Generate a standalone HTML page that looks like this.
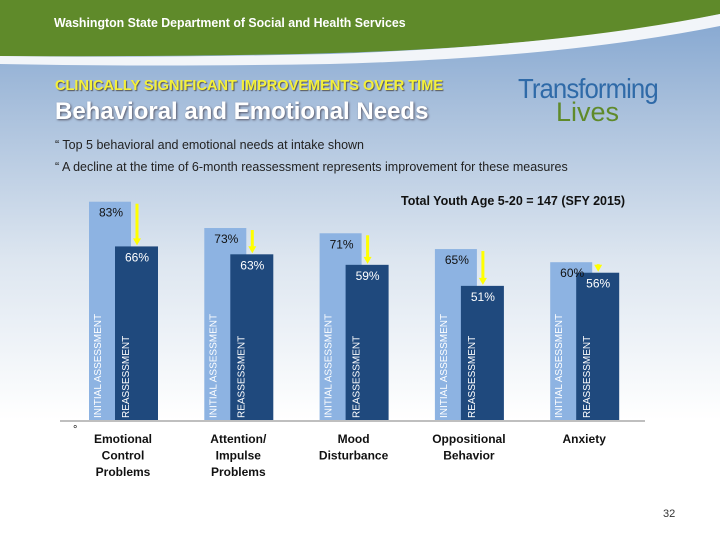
<!DOCTYPE html>
<html><head><meta charset="utf-8"><style>
body{margin:0;width:720px;height:540px;overflow:hidden;font-family:"Liberation Sans",sans-serif;}
#bg{position:absolute;left:0;top:0;width:720px;height:540px;background:linear-gradient(#7fa3cf 0px,#a9c0dc 110px,#dde6f0 260px,#fff 420px,#fff 540px);}
.t{position:absolute;white-space:nowrap;}
</style></head><body>
<div id="bg"></div>
<svg width="720" height="540" style="position:absolute;left:0;top:0">
<path d="M0 0H720V14Q560 48 300 54Q120 57 0 56Z" fill="#5f8a2a"/>
<path d="M0 56Q150 58 330 54Q560 46 720 14V26Q560 58 330 64Q150 67 0 64Z" fill="#f2f5f9"/>
</svg>
<div class="t" style="left:54px;top:15px;font-size:13px;font-weight:bold;color:#fff;transform:scaleX(0.95);transform-origin:left">Washington State Department of Social and Health Services</div>
<div class="t" style="left:55px;top:77px;font-size:15px;font-weight:bold;color:#f4f03a;text-shadow:1px 1px 1px #555;transform:scaleX(0.97);transform-origin:left">CLINICALLY SIGNIFICANT IMPROVEMENTS OVER TIME</div>
<div class="t" style="left:55px;top:98px;font-size:24px;font-weight:bold;color:#fff;text-shadow:1px 1px 2px #556">Behavioral and Emotional Needs</div>
<div class="t" style="left:518px;top:74px;font-size:28px;color:#2f6aa8;letter-spacing:-1px;line-height:30px;transform:scaleX(0.92);transform-origin:left">Transforming</div>
<div class="t" style="left:556px;top:97px;font-size:27px;color:#5f8a2a;line-height:30px">Lives</div>
<div class="t" style="left:55px;top:138px;font-size:12.5px;color:#222">“ Top 5 behavioral and emotional needs at intake shown</div>
<div class="t" style="left:55px;top:160px;font-size:12.5px;color:#222">“ A decline at the time of 6-month reassessment represents improvement for these measures</div>
<div class="t" style="left:401px;top:194px;font-size:12.5px;font-weight:bold;color:#111">Total Youth Age 5-20 = 147 (SFY 2015)</div>
<div class="t" style="left:73px;top:424px;font-size:11px;color:#111">°</div>
<div class="t" style="left:663px;top:508px;font-size:11px;color:#333">32</div>
<svg id="chart" width="720" height="540" style="position:absolute;left:0;top:0"></svg>
<script>
const categories=[["Emotional","Control","Problems"],["Attention/","Impulse","Problems"],["Mood","Disturbance"],["Oppositional","Behavior"],["Anxiety"]];
const initialValues=[83,73,71,65,60];
const reassessValues=[66,63,59,51,56];
const NS="http://www.w3.org/2000/svg";
const svg=document.getElementById('chart');
const base=420,scale=2.63;
function y(v){return base-v*scale;}
function gx(i){return 89+i*115.3;}
function mk(tag,attrs){const e=document.createElementNS(NS,tag);for(const k in attrs)e.setAttribute(k,attrs[k]);svg.appendChild(e);return e;}
const ax=mk('line',{x1:60,x2:645,y1:421,y2:421,stroke:'#aaa','stroke-width':1.5});


function txt(s,x,yy,attrs){const e=mk('text',Object.assign({x:x,y:yy,'font-family':'Liberation Sans, sans-serif'},attrs));e.textContent=s;return e;}
categories.forEach((c,i)=>{
 const x=gx(i);
 const b1=mk('rect',{x:x,y:y(initialValues[i]),width:42,height:base-y(initialValues[i]),fill:'#8db3e2'});
 
 
 const b2=mk('rect',{x:x+26,y:y(reassessValues[i]),width:43,height:base-y(reassessValues[i]),fill:'#1f497d'});
 
 
 const l1=txt(initialValues[i]+'%',x+22,y(initialValues[i])+15,{'font-size':12,'text-anchor':'middle',fill:'#111'});
 
 
 const l2=txt(reassessValues[i]+'%',x+48,y(reassessValues[i])+15,{'font-size':12,'text-anchor':'middle',fill:'#fff'});
 
 
 const v1=txt('INITIAL ASSESSMENT',0,0,{'font-size':10,fill:'#fff',transform:`translate(${x+12},${base-2}) rotate(-90)`});
 
 
 const v2=txt('REASSESSMENT',0,0,{'font-size':10,fill:'#fff',transform:`translate(${x+40},${base-2}) rotate(-90)`});
 
 
 const ay1=y(initialValues[i])+2,ay2=y(reassessValues[i])-1,axp=x+48;
 const ar=mk('path',{d:`M${axp} ${ay1}V${ay2-5}`,stroke:'#ffff00','stroke-width':3});
 
 
 const ah=mk('path',{d:`M${axp-4} ${ay2-7}L${axp+4} ${ay2-7}L${axp} ${ay2}Z`,fill:'#ffff00'});
 
 
 c.forEach((line,j)=>{
  const t=txt(line,x+34,443+j*16.5,{'font-size':12,'font-weight':'bold','text-anchor':'middle',fill:'#111'});
  
  
 });
});
</script>
</body></html>
